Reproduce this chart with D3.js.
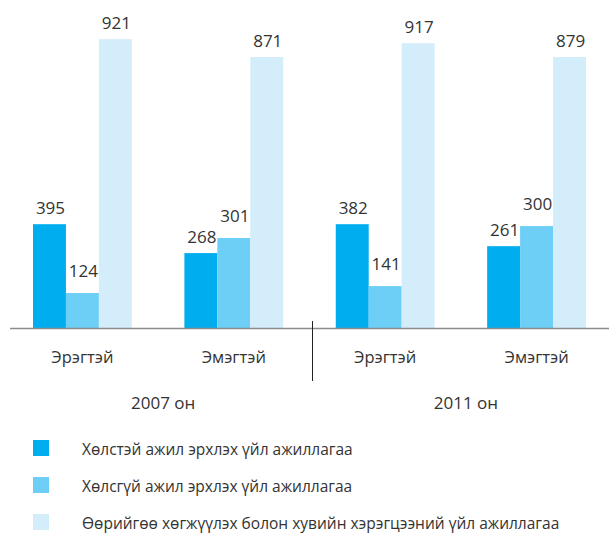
<!DOCTYPE html>
<html><head><meta charset="utf-8">
<script src="https://cdn.jsdelivr.net/npm/d3@7"></script>
<style>html,body{margin:0;padding:0;background:#fff;} svg{display:block;font-family:"Open Sans",sans-serif;}</style>
</head><body>
<svg id="c" width="609" height="533"></svg>
<script>
const groups = ["2007-Эрэгтэй","2007-Эмэгтэй","2011-Эрэгтэй","2011-Эмэгтэй"];
const groupLabels = ["Эрэгтэй","Эмэгтэй","Эрэгтэй","Эмэгтэй"];
const years = ["2007 он","2011 он"];
const seriesNames = ["Хөлстэй ажил эрхлэх үйл ажиллагаа","Хөлсгүй ажил эрхлэх үйл ажиллагаа","Өөрийгөө хөгжүүлэх болон хувийн хэрэгцээний үйл ажиллагаа"];
// printed values (labels)
const paid = [395,268,382,261];
const unpaid = [124,301,141,300];
const selfDev = [921,871,917,879];
// bar heights as drawn in the reference (same units)
const paidBar = [332,240,332,262];
const unpaidBar = [113,288,135,326];
const selfDevBar = [921,864,908,864];
const colors = ["#00aeef","#6dcff6","#d4edfb"];

const svg = d3.select("#c");
const series = [paid, unpaid, selfDev];
const bars = [paidBar, unpaidBar, selfDevBar];
const labelGap = [10, 16, 10];
const x = d3.scaleBand().domain(groups).range([33,586]).paddingInner(0.347).paddingOuter(0);
const xs = d3.scaleBand().domain(d3.range(3)).range([0,x.bandwidth()]).padding(0);
const y = d3.scaleLinear().domain([0,1000]).range([328.5,14.3]);

const data = [];
groups.forEach((g,gi)=>series.forEach((s,si)=>data.push({g,si,v:s[gi],h:bars[si][gi]})));

svg.selectAll("rect.bar").data(data).join("rect").attr("class","bar")
  .attr("x",d=>x(d.g)+xs(d.si)).attr("width",xs.bandwidth())
  .attr("y",d=>y(d.h)).attr("height",d=>y(0)-y(d.h)).attr("fill",d=>colors[d.si]);

svg.selectAll("text.val").data(data).join("text").attr("class","val")
  .attr("x",d=>x(d.g)+xs(d.si)+xs.bandwidth()/2+1).attr("y",d=>y(d.h)-labelGap[d.si])
  .attr("text-anchor","middle").attr("font-size",17).attr("fill","#333").text(d=>d.v);

svg.append("line").attr("x1",10).attr("x2",609).attr("y1",y(0)).attr("y2",y(0))
  .attr("stroke","#8c8c8c").attr("stroke-width",1.5);

const sepX = (x(groups[1])+x.bandwidth()+x(groups[2]))/2+3;
svg.append("line").attr("x1",sepX).attr("x2",sepX).attr("y1",321).attr("y2",381)
  .attr("stroke","#222").attr("stroke-width",1);

svg.selectAll("text.cat").data(groups).join("text").attr("class","cat")
  .attr("x",g=>x(g)+x.bandwidth()/2).attr("y",363).attr("text-anchor","middle")
  .attr("font-size",16.5).attr("fill","#333").text((g,i)=>groupLabels[i]);

svg.selectAll("text.year").data(years).join("text").attr("class","year")
  .attr("x",(t,i)=>(x(groups[2*i])+x(groups[2*i+1])+x.bandwidth())/2+5).attr("y",409)
  .attr("text-anchor","middle").attr("font-size",17).attr("fill","#333").text(t=>t);

const leg = svg.selectAll("g.leg").data(seriesNames).join("g").attr("class","leg")
  .attr("transform",(d,i)=>`translate(33,${440+i*37})`);
leg.append("rect").attr("width",16).attr("height",16).attr("fill",(d,i)=>colors[i]);
leg.append("text").attr("x",49).attr("y",14.5).attr("font-size",15.5).attr("fill","#333").text(d=>d);
</script>
</body></html>
